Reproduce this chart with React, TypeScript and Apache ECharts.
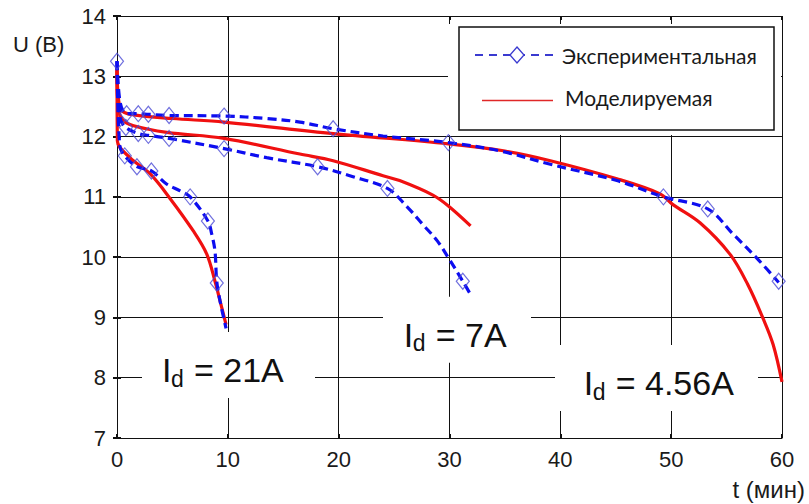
import React, { useEffect, useRef } from "react";
import * as echarts from "echarts";

// ---- Data (t in minutes, U in volts) ----
const xTicks = [0, 10, 20, 30, 40, 50, 60];
const yTicks = [7, 8, 9, 10, 11, 12, 13, 14];

// Experimental curves (dashed blue)
const exp456Line: number[][] = [
  [0, 13.25], [0.3, 12.55], [0.87, 12.38], [1.92, 12.38], [2.83, 12.37], [4.7, 12.35],
  [9.66, 12.34], [13.5, 12.3], [16.5, 12.24], [19.5, 12.13], [24, 12.01], [29.9, 11.9],
  [34.6, 11.76], [39.1, 11.54], [45.1, 11.27], [49.3, 11.0], [53.3, 10.8], [55.6, 10.38],
  [58, 9.93], [59.7, 9.58],
];
const exp456Markers: number[][] = [
  [0, 13.25], [0.87, 12.38], [1.92, 12.38], [2.83, 12.37], [4.7, 12.35], [9.66, 12.34],
  [19.5, 12.13], [29.9, 11.9], [49.3, 11.0], [53.3, 10.8], [59.7, 9.6],
];
const exp7Line: number[][] = [
  [0, 13.25], [0.3, 12.3], [0.8, 12.15], [1.92, 12.05], [2.83, 12.02], [4.7, 11.97],
  [9.66, 11.8], [13.5, 11.65], [18.1, 11.5], [21, 11.35], [24.4, 11.14], [26.1, 10.85],
  [27.6, 10.54], [28.9, 10.27], [29.9, 9.99], [31.2, 9.6], [31.9, 9.38],
];
const exp7Markers: number[][] = [
  [0.8, 12.15], [1.92, 12.05], [2.83, 12.02], [4.7, 11.97], [9.66, 11.8], [18.1, 11.5],
  [24.4, 11.14], [31.2, 9.6],
];
const exp21Line: number[][] = [
  [0, 13.25], [0.25, 11.85], [0.7, 11.68], [1.8, 11.5], [3.1, 11.43], [4.5, 11.21],
  [5.7, 11.1], [6.6, 11.0], [8.2, 10.6], [8.55, 10.38], [8.84, 10.1], [9.0, 9.6],
  [9.3, 9.27], [9.84, 8.82],
];
const exp21Markers: number[][] = [
  [0.7, 11.68], [1.8, 11.5], [3.1, 11.43], [6.6, 11.0], [8.2, 10.6], [9.0, 9.57],
];

// Model curves (solid red)
const mod456: number[][] = [
  [0, 13.15], [0.15, 12.6], [0.5, 12.42], [1.5, 12.36], [5, 12.3], [9.66, 12.24],
  [19.5, 12.05], [29.9, 11.88], [35, 11.76], [39.1, 11.6], [45.1, 11.3], [49, 11.05],
  [50.1, 10.88], [52.6, 10.57], [55.3, 10.05], [56.9, 9.55], [58.3, 8.98], [59.2, 8.55],
  [60, 7.93],
];
const mod7: number[][] = [
  [0, 13.1], [0.1, 12.5], [0.5, 12.28], [1.5, 12.18], [4.5, 12.07], [9.66, 11.97],
  [16.5, 11.71], [19.5, 11.6], [24, 11.35], [25.5, 11.27], [28.5, 11.03], [29.9, 10.85],
  [31.9, 10.52],
];
const mod21: number[][] = [
  [0, 13.1], [0.03, 11.93], [1.17, 11.65], [3.0, 11.38], [4.8, 10.97], [6.9, 10.43],
  [8.1, 10.05], [8.84, 9.6], [9.4, 9.2], [9.84, 8.88],
];

const legendNames = ["Экспериментальная", "Моделируемая"];
const annotations = [
  { rest: "= 21A", ix: 165, base: 382, boxL: 142, boxR: 315 },
  { rest: "= 7A", ix: 406.7, base: 346.7, boxL: 383, boxR: 531 },
  { rest: "= 4.56A", ix: 586.7, base: 395, boxL: 555, boxR: 758 },
];

const BLUE = "#0d0df0";
const MARK = "#4b4bd6";
const RED = "#f01010";
const FONT = "'Liberation Sans', Arial, sans-serif";

function lineSeries(name: string, data: number[][], color: string, dashed: boolean) {
  return {
    type: "line",
    name,
    data,
    smooth: 0.35,
    showSymbol: false,
    symbol: "none",
    lineStyle: { color, width: 3.2, type: dashed ? [9, 5] : "solid" },
    z: dashed ? 3 : 2,
  };
}
function markerSeries(name: string, data: number[][]) {
  return {
    type: "scatter",
    name,
    data,
    symbol: "diamond",
    symbolSize: [13, 16],
    itemStyle: { color: "rgba(0,0,0,0)", borderColor: MARK, borderWidth: 1.2 },
    z: 4,
  };
}

export default function App() {
  const ref = useRef<HTMLDivElement>(null);
  useEffect(() => {
    const chart = echarts.init(ref.current!, null, { renderer: "svg" });
    const gridLine = { show: true, lineStyle: { color: "#111", width: 1 } };
    const annGraphics: any[] = [];
    annotations.forEach((a) => {
      annGraphics.push({
        type: "rect",
        z: 1,
        shape: { x: a.boxL, y: a.base - 50, width: a.boxR - a.boxL, height: 66 },
        style: { fill: "#ffffff" },
      });
      annGraphics.push({
        type: "text", z: 1, x: a.ix - 3, y: a.base + 5,
        style: { text: "I", font: `34px ${FONT}`, fill: "#111", verticalAlign: "bottom" },
      });
      annGraphics.push({
        type: "text", z: 1, x: a.ix + 6, y: a.base + 8,
        style: { text: "d", font: `23px ${FONT}`, fill: "#111", verticalAlign: "bottom" },
      });
      annGraphics.push({
        type: "text", z: 1, x: a.ix + 29, y: a.base + 5,
        style: { text: a.rest, font: `34px ${FONT}`, fill: "#111", verticalAlign: "bottom" },
      });
    });
    chart.setOption({
      animation: false,
      backgroundColor: "#ffffff",
      grid: { left: 117, top: 16, width: 665, height: 422, containLabel: false },
      xAxis: [
        {
          type: "value", min: 0, max: 60, interval: 10,
          axisLine: { show: true, onZero: false, lineStyle: { color: "#111", width: 1 } },
          axisTick: { show: true, inside: true, length: 4, lineStyle: { color: "#111", width: 2 } },
          axisLabel: {
            fontSize: 22, fontFamily: FONT, color: "#1a1a1a", margin: 10,
            customValues: xTicks,
          },
          splitLine: gridLine,
        },
        {
          type: "value", position: "top", min: 0, max: 60, interval: 10,
          axisLine: { show: true, lineStyle: { color: "#111", width: 1 } },
          axisTick: { show: true, inside: true, length: 4, lineStyle: { color: "#111", width: 2 } },
          axisLabel: { show: false }, splitLine: { show: false },
        },
      ],
      yAxis: [
        {
          type: "value", min: 7, max: 14, interval: 1,
          axisLine: { show: true, onZero: false, lineStyle: { color: "#111", width: 1 } },
          axisTick: { show: true, inside: true, length: 4, lineStyle: { color: "#111", width: 2 } },
          axisLabel: { fontSize: 22, fontFamily: FONT, color: "#1a1a1a", margin: 11, customValues: yTicks },
          splitLine: gridLine,
        },
        {
          type: "value", position: "right", min: 7, max: 14, interval: 1,
          axisLine: { show: true, lineStyle: { color: "#111", width: 1 } },
          axisTick: { show: true, inside: true, length: 4, lineStyle: { color: "#111", width: 2 } },
          axisLabel: { show: false }, splitLine: { show: false },
        },
      ],
      series: [
        lineSeries(legendNames[1], mod456, RED, false),
        lineSeries(legendNames[1], mod7, RED, false),
        lineSeries(legendNames[1], mod21, RED, false),
        lineSeries(legendNames[0], exp456Line, BLUE, true),
        lineSeries(legendNames[0], exp7Line, BLUE, true),
        lineSeries(legendNames[0], exp21Line, BLUE, true),
        markerSeries(legendNames[0], exp456Markers),
        markerSeries(legendNames[0], exp7Markers),
        markerSeries(legendNames[0], exp21Markers),
      ],
      graphic: [
        // axis names
        { type: "text", z: 1, x: 13, y: 44, style: { text: "U (B)", font: `22px ${FONT}`, fill: "#1a1a1a", verticalAlign: "middle" } },
        { type: "text", z: 1, x: 805, y: 489, style: { text: "t (мин)", font: `24px ${FONT}`, fill: "#1a1a1a", align: "right", verticalAlign: "middle" } },
        // legend
        { type: "rect", z: 1, shape: { x: 448, y: 24, width: 333, height: 111 }, style: { fill: "#ffffff" } },
        { type: "rect", z: 1, shape: { x: 459, y: 27, width: 315, height: 103 }, style: { fill: "none", stroke: "#111", lineWidth: 1.5 } },
        { type: "line", z: 1, shape: { x1: 475, y1: 55, x2: 555, y2: 55 }, style: { stroke: "#3a3ad0", lineWidth: 2, lineDash: [8, 6] } },
        { type: "polygon", z: 2, shape: { points: [[517, 47], [524, 55], [517, 63], [510, 55]] }, style: { fill: "#ffffff", stroke: "#3a3ad0", lineWidth: 1.3 } },
        { type: "text", z: 1, x: 562, y: 55, style: { text: legendNames[0], font: `21px Lato, ${FONT}`, fill: "#1a1a1a", verticalAlign: "middle" } },
        { type: "line", z: 1, shape: { x1: 482, y1: 100.5, x2: 553, y2: 100.5 }, style: { stroke: "#e02828", lineWidth: 1.5 } },
        { type: "text", z: 1, x: 565, y: 97, style: { text: legendNames[1], font: `21px Lato, ${FONT}`, fill: "#1a1a1a", verticalAlign: "middle" } },
        ...annGraphics,
      ],
    });
    return () => chart.dispose();
  }, []);
  return (
    <div
      ref={ref}
      style={{ position: "absolute", left: 0, top: 0, width: 809, height: 504, background: "#fff" }}
    />
  );
}
